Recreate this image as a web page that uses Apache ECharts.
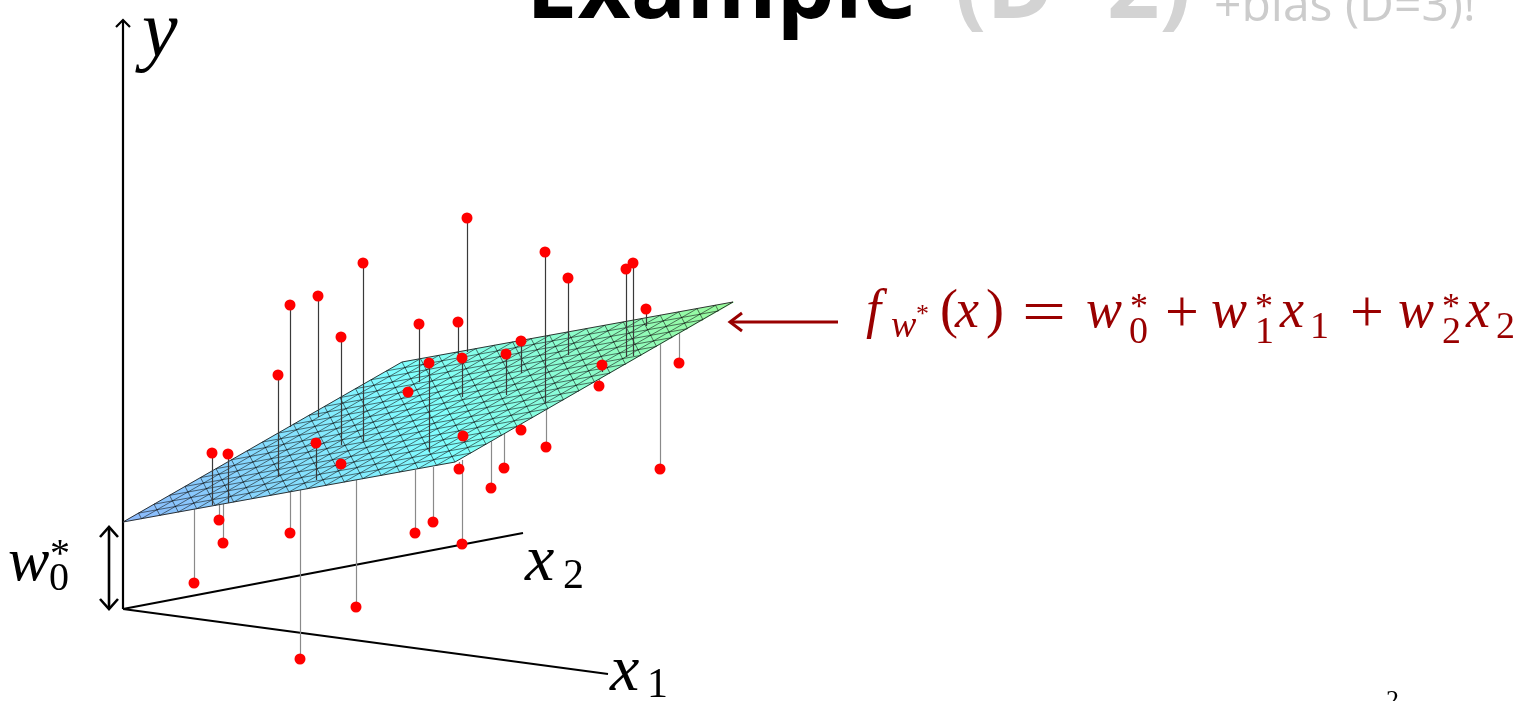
<!DOCTYPE html>
<html>
<head>
<meta charset="utf-8">
<script src="https://cdn.jsdelivr.net/npm/echarts@6/dist/echarts.min.js"></script>
<style>
  html, body { margin: 0; padding: 0; background: #ffffff; }
  #chart { width: 1525px; height: 701px; }
</style>
</head>
<body>
<div id="chart"></div>
<script>
// Projected diagram coordinates: origin where the three axes meet, x to the right, y upward.

// Observations: position of each red sample and the height where its residual stem
// meets the fitted plane (or, for samples under the plane, its visible edge).
const pointX    = [344, 422, 445, 503, 510, 523, 556, 537, 479, 476, 398, 383, 339, 335, 296, 306, 285, 340, 336, 339, 398, 381, 368, 423, 167, 195, 218, 155, 240,  89, 105, 193, 218,  96, 100,  71, 167, 177, 233, 292, 310];
const pointY    = [391, 357, 331, 340, 346, 300, 246, 140, 244, 223, 268, 255, 251, 287, 285, 246, 217, 173, 140,  65, 179, 141, 121, 162, 304, 313, 272, 234, 346, 156, 155, 166, 145,  89,  66,  26,  76, -50,   2,  76,  87];
const stemFootY = [257, 206, 254, 252, 253, 283, 277, 266, 237, 231, 236, 214, 212, 253, 227, 157, 217, 173, 147, 149, 186, 176, 168, 200, 182, 192, 164, 132, 167, 104, 106, 129, 145, 104, 105, 100, 117, 119, 129, 139, 142];

// Fitted plane f(x) = w0 + w1 x1 + w2 x2 over the input square, as its four projected corners.
const planeLeft   = [0, 87];
const planeTop    = [279, 247];
const planeRight  = [610, 307];
const planeBottom = [332, 147];

// Axes of the 3-D sketch.
const axisOrigin = [0, 0];
const yAxisTip   = [0, 589];
const x1AxisEnd  = [485, -65];
const x2AxisEnd  = [400, 76];

// Bias bracket (height of w0 above the origin) and the pointer to the formula.
const biasBracketX = -14;
const biasBracketY = [0, 82];
const pointerFrom  = [715, 287];
const pointerTo    = [607, 287];

const PLANE_DIVISIONS = 18;

// Light jet-like colour ramp along the plane's height.
const rampStops = [[140, 184, 252], [128, 255, 255], [152, 250, 152]];
function rampColor(h) {
  const k = h < 0.5 ? 0 : 1;
  const f = h < 0.5 ? h * 2 : (h - 0.5) * 2;
  const a = rampStops[k], b = rampStops[k + 1];
  const c = a.map((v, i) => Math.round(v + (b[i] - v) * f));
  return 'rgb(' + c.join(',') + ')';
}

function lineShape(p, q) { return { x1: p[0], y1: p[1], x2: q[0], y2: q[1] }; }

function renderPlane(params, api) {
  const L = api.coord([api.value(0), api.value(1)]);
  const T = api.coord([api.value(2), api.value(3)]);
  const R = api.coord([api.value(4), api.value(5)]);
  const B = api.coord([api.value(6), api.value(7)]);
  const N = PLANE_DIVISIONS;
  const at = (s, t) => [
    L[0] + s * (T[0] - L[0]) + t * (B[0] - L[0]),
    L[1] + s * (T[1] - L[1]) + t * (B[1] - L[1])
  ];
  const fills = [];
  const mesh = [];
  for (let i = 0; i < N; i++) {
    for (let j = 0; j < N; j++) {
      const s0 = i / N, s1 = (i + 1) / N, t0 = j / N, t1 = (j + 1) / N;
      const a = at(s0, t0), b = at(s1, t0), c = at(s1, t1), d = at(s0, t1);
      const h1 = (s0 + s1 + s0 + t0 + t0 + t1) / 6;
      const h2 = (s1 + s1 + s0 + t0 + t1 + t1) / 6;
      const c1 = rampColor(h1), c2 = rampColor(h2);
      fills.push({ type: 'polygon', shape: { points: [a, b, d] }, style: { fill: c1, stroke: c1, lineWidth: 0.4 } });
      fills.push({ type: 'polygon', shape: { points: [b, c, d] }, style: { fill: c2, stroke: c2, lineWidth: 0.4 } });
    }
  }
  // mesh: both families of grid lines plus the diagonals splitting each cell into triangles
  const meshStyle = { stroke: 'rgba(0,0,0,0.78)', lineWidth: 0.7 };
  for (let k = 1; k < N; k++) {
    const u = k / N;
    mesh.push({ type: 'line', shape: lineShape(at(u, 0), at(u, 1)), style: meshStyle });
    mesh.push({ type: 'line', shape: lineShape(at(0, u), at(1, u)), style: meshStyle });
  }
  for (let k = 1; k < 2 * N; k++) {
    const d = k / N;
    const s0 = Math.min(1, d), t0 = d - s0;
    const t1 = Math.min(1, d), s1 = d - t1;
    mesh.push({ type: 'line', shape: lineShape(at(s0, t0), at(s1, t1)), style: meshStyle });
  }
  mesh.push({
    type: 'polygon', shape: { points: [L, T, R, B] },
    style: { fill: 'none', stroke: '#1e1e1e', lineWidth: 0.9 }
  });
  return { type: 'group', children: fills.concat(mesh) };
}

// Straight segment with optional open chevron heads at either end.
function arrowRenderer(color, width, headLen, headHalf) {
  return function (params, api) {
    const p0 = api.coord([api.value(0), api.value(1)]);
    const p1 = api.coord([api.value(2), api.value(3)]);
    const children = [{
      type: 'line', shape: lineShape(p0, p1),
      style: { stroke: color, lineWidth: width, lineCap: 'butt' }
    }];
    const head = (tip, from) => {
      const dx = tip[0] - from[0], dy = tip[1] - from[1];
      const len = Math.hypot(dx, dy) || 1;
      const ux = dx / len, uy = dy / len;
      const bx = tip[0] - ux * headLen, by = tip[1] - uy * headLen;
      children.push({
        type: 'polyline',
        shape: { points: [[bx - uy * headHalf, by + ux * headHalf], tip, [bx + uy * headHalf, by - ux * headHalf]] },
        style: { stroke: color, lineWidth: width, fill: 'none', lineJoin: 'miter', lineCap: 'butt' }
      });
    };
    if (api.value(4)) head(p0, p1);
    if (api.value(5)) head(p1, p0);
    return { type: 'group', children: children };
  };
}

const aboveIdx = pointX.map((_, i) => i).filter(i => pointY[i] > stemFootY[i]);
const belowIdx = pointX.map((_, i) => i).filter(i => pointY[i] < stemFootY[i]);
const stemData = idx => idx.map(i => ({ coords: [[pointX[i], pointY[i]], [pointX[i], stemFootY[i]]] }));

// Text layout (math set in a serif face, slide title in a sans face).
const SERIF = '"Liberation Serif", "DejaVu Serif", serif';
const SANS = '"Open Sans", "Noto Sans", sans-serif';
const MID = 0.26;
function txt(text, x, baseline, size, fontStyle, family, fill, extra) {
  return Object.assign({
    type: 'text', x: x, y: baseline - MID * size, z: 10, silent: true,
    style: { text: text, font: fontStyle + ' ' + size + 'px ' + family, fill: fill, align: 'left', verticalAlign: 'middle' }
  }, extra || {});
}
const RED = '#990000';
const formula = [
  ['f', 866, 327, 54, 'italic'],
  ['w', 891, 337, 38, 'italic'],
  ['*', 916, 322, 26, 'normal'],
  ['(', 940, 327, 54, 'normal'],
  ['x', 955, 327, 54, 'italic'],
  [')', 986, 327, 54, 'normal'],
  ['=', 1022, 331, 60, 'normal', { scaleX: 1.3 }],
  ['w', 1086, 327, 54, 'italic'],
  ['*', 1130, 318, 36, 'normal'],
  ['0', 1129, 343, 38, 'normal'],
  ['+', 1165, 331, 60, 'normal'],
  ['w', 1211, 327, 54, 'italic'],
  ['*', 1255, 318, 36, 'normal'],
  ['1', 1255, 343, 38, 'normal'],
  ['x', 1280, 327, 54, 'italic'],
  ['1', 1310, 338, 38, 'normal'],
  ['+', 1350, 331, 60, 'normal'],
  ['w', 1398, 327, 54, 'italic'],
  ['*', 1442, 318, 36, 'normal'],
  ['2', 1442, 343, 38, 'normal'],
  ['x', 1466, 327, 54, 'italic'],
  ['2', 1496, 338, 38, 'normal']
];
const texts = [
  txt('Example', 526, 16, 92, 'bold', SANS, '#000000'),
  txt('(D=2)', 955, 16, 92, 'bold', SANS, '#d3d3d3'),
  txt('+bias (D=3)!', 1214, 20, 48, 'normal', SANS, '#cccccc'),
  txt('y', 142, 56, 80, 'italic', SERIF, '#000000'),
  txt('x', 525, 580, 66, 'italic', SERIF, '#000000'),
  txt('2', 563, 588, 42, 'normal', SERIF, '#000000'),
  txt('x', 610, 690, 66, 'italic', SERIF, '#000000'),
  txt('1', 647, 697, 42, 'normal', SERIF, '#000000'),
  txt('w', 8, 580, 62, 'italic', SERIF, '#000000'),
  txt('0', 49, 590, 40, 'normal', SERIF, '#000000'),
  txt('*', 50, 566, 40, 'normal', SERIF, '#000000'),
  txt('2', 1386, 708, 26, 'normal', SERIF, '#000000')
].concat(formula.map(f => txt(f[0], f[1], f[2], f[3], f[4], SERIF, RED, f[5])));

const chart = echarts.init(document.getElementById('chart'));
chart.setOption({
  animation: false,
  backgroundColor: '#ffffff',
  grid: { left: 0, right: 0, top: 0, bottom: 0, containLabel: false },
  xAxis: { type: 'value', min: -123, max: 1402, show: false },
  yAxis: { type: 'value', min: -92, max: 609, show: false },
  graphic: { elements: texts },
  series: [
    {
      name: 'axes', type: 'custom', coordinateSystem: 'cartesian2d', clip: false, silent: true, z: 1,
      renderItem: arrowRenderer('#000000', 2.2, 7, 7),
      data: [
        [axisOrigin[0], axisOrigin[1], yAxisTip[0], yAxisTip[1], 0, 1],
        [axisOrigin[0], axisOrigin[1], x1AxisEnd[0], x1AxisEnd[1], 0, 0],
        [axisOrigin[0], axisOrigin[1], x2AxisEnd[0], x2AxisEnd[1], 0, 0]
      ]
    },
    {
      name: 'bias', type: 'custom', coordinateSystem: 'cartesian2d', clip: false, silent: true, z: 1,
      renderItem: arrowRenderer('#000000', 2.6, 10, 9),
      data: [[biasBracketX, biasBracketY[0], biasBracketX, biasBracketY[1], 1, 1]]
    },
    {
      name: 'stems below', type: 'lines', coordinateSystem: 'cartesian2d', silent: true, z: 2,
      lineStyle: { color: '#8a8a8a', width: 1.2, opacity: 1 },
      data: stemData(belowIdx)
    },
    {
      name: 'plane', type: 'custom', coordinateSystem: 'cartesian2d', clip: false, silent: true, z: 3,
      renderItem: renderPlane,
      data: [[planeLeft[0], planeLeft[1], planeTop[0], planeTop[1], planeRight[0], planeRight[1], planeBottom[0], planeBottom[1]]]
    },
    {
      name: 'stems above', type: 'lines', coordinateSystem: 'cartesian2d', silent: true, z: 4,
      lineStyle: { color: '#3a3a3a', width: 1.2, opacity: 1 },
      data: stemData(aboveIdx)
    },
    {
      name: 'samples', type: 'scatter', silent: true, z: 5,
      symbol: 'circle', symbolSize: 11,
      itemStyle: { color: '#ff0000', opacity: 1 },
      data: pointX.map((x, i) => [x, pointY[i]])
    },
    {
      name: 'pointer', type: 'custom', coordinateSystem: 'cartesian2d', clip: false, silent: true, z: 5,
      renderItem: arrowRenderer(RED, 3, 12, 9),
      data: [[pointerFrom[0], pointerFrom[1], pointerTo[0], pointerTo[1], 0, 1]]
    }
  ]
});
</script>
</body>
</html>
